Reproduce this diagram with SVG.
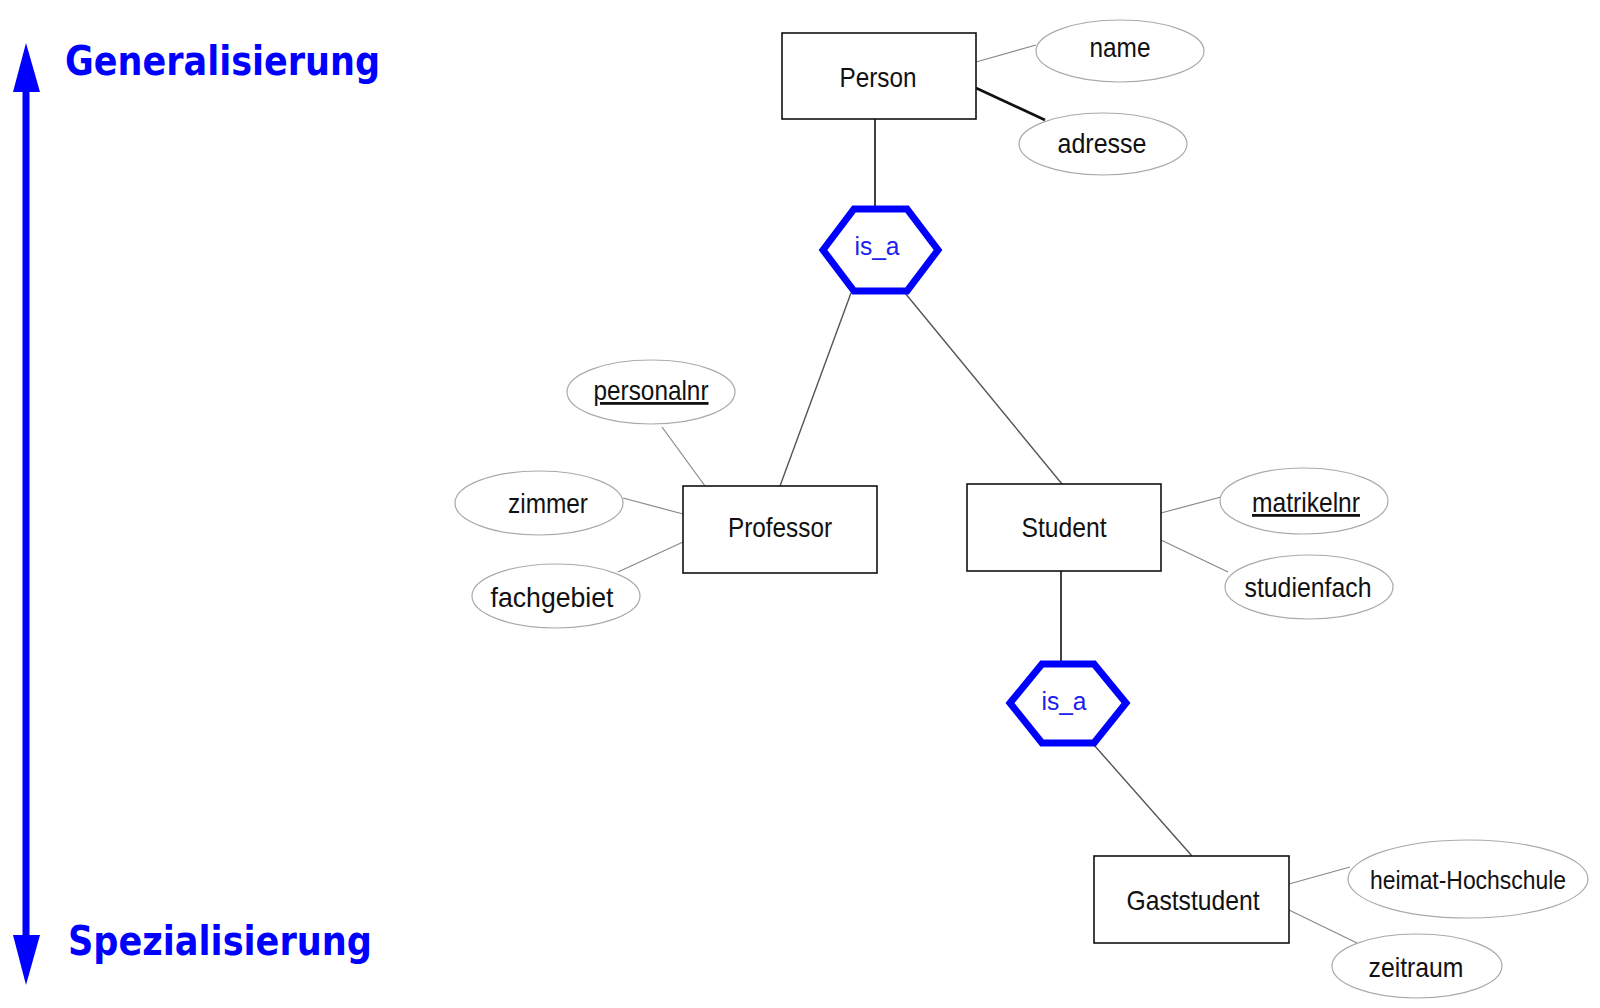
<svg xmlns="http://www.w3.org/2000/svg" width="1600" height="1008" viewBox="0 0 1600 1008">
<style>
.ent{fill:#fff;stroke:#111;stroke-width:1.6}
.att{fill:#fff;stroke:#aaa;stroke-width:1.2}
.hex{fill:#fff;stroke:#0000ff;stroke-width:7;stroke-linejoin:miter}
.t{font-family:"Liberation Sans",Arial,sans-serif;font-size:28px;fill:#111;text-anchor:middle}
.ti{font-family:"Liberation Sans",Arial,sans-serif;font-size:26px;fill:#2020ee;text-anchor:middle}
.big{font-family:"DejaVu Sans",Verdana,sans-serif;font-weight:bold;font-size:40px;fill:#0000ff}
.la{stroke:#888;stroke-width:1.2;fill:none}
.lk{stroke:#111;stroke-width:1.6;fill:none}
.lg{stroke:#555;stroke-width:1.4;fill:none}
</style>
<g id="axis">
<line x1="26" y1="88" x2="26" y2="940" stroke="#0000ff" stroke-width="7"/>
<polygon points="26,43 13,92 40,92" fill="#0000ff"/>
<polygon points="26,985 13,935 40,935" fill="#0000ff"/>
<text class="big" x="65" y="75" textLength="315" lengthAdjust="spacingAndGlyphs">Generalisierung</text>
<text class="big" x="68" y="955" textLength="304" lengthAdjust="spacingAndGlyphs">Spezialisierung</text>
</g>
<g id="connectors">
<line class="la" x1="976" y1="62" x2="1036" y2="45"/>
<line x1="976" y1="88" x2="1045" y2="120" stroke="#111" stroke-width="2.6"/>
<line class="lk" x1="875" y1="119" x2="875" y2="209"/>
<line class="lg" x1="851" y1="293" x2="780" y2="486"/>
<line class="lg" x1="905" y1="293" x2="1062" y2="484"/>
<line class="la" x1="662" y1="427" x2="705" y2="486"/>
<line class="la" x1="623" y1="498" x2="683" y2="514"/>
<line class="la" x1="618" y1="572" x2="683" y2="542"/>
<line class="la" x1="1161" y1="513" x2="1221" y2="497"/>
<line class="la" x1="1161" y1="540" x2="1228" y2="572"/>
<line class="lk" x1="1061" y1="571" x2="1061" y2="665"/>
<line class="lg" x1="1094" y1="745" x2="1192" y2="856"/>
<line class="la" x1="1289" y1="884" x2="1350" y2="867"/>
<line class="la" x1="1289" y1="910" x2="1357" y2="943"/>
</g>
<g id="person">
<rect class="ent" x="782" y="33" width="194" height="86"/>
<text class="t" x="878" y="87" textLength="77" lengthAdjust="spacingAndGlyphs">Person</text>
</g>
<g id="name">
<ellipse class="att" cx="1120" cy="51" rx="84" ry="31"/>
<text class="t" x="1120" y="57" textLength="61" lengthAdjust="spacingAndGlyphs">name</text>
</g>
<g id="adresse">
<ellipse class="att" cx="1103" cy="144" rx="84" ry="31"/>
<text class="t" x="1102" y="153" textLength="89" lengthAdjust="spacingAndGlyphs">adresse</text>
</g>
<g id="isa1">
<polygon class="hex" points="823,250 854,209 907,209 938,250 907,291 854,291"/>
<text class="ti" x="877" y="255" textLength="45" lengthAdjust="spacingAndGlyphs">is_a</text>
</g>
<g id="professor">
<rect class="ent" x="683" y="486" width="194" height="87"/>
<text class="t" x="780" y="537" textLength="104" lengthAdjust="spacingAndGlyphs">Professor</text>
</g>
<g id="personalnr">
<ellipse class="att" cx="651" cy="392" rx="84" ry="32"/>
<text class="t" x="651" y="400" textLength="115" lengthAdjust="spacingAndGlyphs" text-decoration="underline">personalnr</text>
</g>
<g id="zimmer">
<ellipse class="att" cx="539" cy="503" rx="84" ry="32"/>
<text class="t" x="548" y="513" textLength="80" lengthAdjust="spacingAndGlyphs">zimmer</text>
</g>
<g id="fachgebiet">
<ellipse class="att" cx="556" cy="596" rx="84" ry="32"/>
<text class="t" x="552" y="607" textLength="123" lengthAdjust="spacingAndGlyphs">fachgebiet</text>
</g>
<g id="student">
<rect class="ent" x="967" y="484" width="194" height="87"/>
<text class="t" x="1064" y="537" textLength="85" lengthAdjust="spacingAndGlyphs">Student</text>
</g>
<g id="matrikelnr">
<ellipse class="att" cx="1304" cy="501" rx="84" ry="33"/>
<text class="t" x="1306" y="512" textLength="108" lengthAdjust="spacingAndGlyphs" text-decoration="underline">matrikelnr</text>
</g>
<g id="studienfach">
<ellipse class="att" cx="1309" cy="587" rx="84" ry="32"/>
<text class="t" x="1308" y="597" textLength="127" lengthAdjust="spacingAndGlyphs">studienfach</text>
</g>
<g id="isa2">
<polygon class="hex" points="1010,703 1042,664 1094,664 1126,703 1094,743 1042,743"/>
<text class="ti" x="1064" y="710" textLength="45" lengthAdjust="spacingAndGlyphs">is_a</text>
</g>
<g id="gaststudent">
<rect class="ent" x="1094" y="856" width="195" height="87"/>
<text class="t" x="1193" y="910" textLength="133" lengthAdjust="spacingAndGlyphs">Gaststudent</text>
</g>
<g id="heimat">
<ellipse class="att" cx="1468" cy="879" rx="120" ry="39"/>
<text class="t" x="1468" y="889" style="font-size:26px" textLength="196" lengthAdjust="spacingAndGlyphs">heimat-Hochschule</text>
</g>
<g id="zeitraum">
<ellipse class="att" cx="1417" cy="966" rx="85" ry="32"/>
<text class="t" x="1416" y="977" textLength="95" lengthAdjust="spacingAndGlyphs">zeitraum</text>
</g>
</svg>
